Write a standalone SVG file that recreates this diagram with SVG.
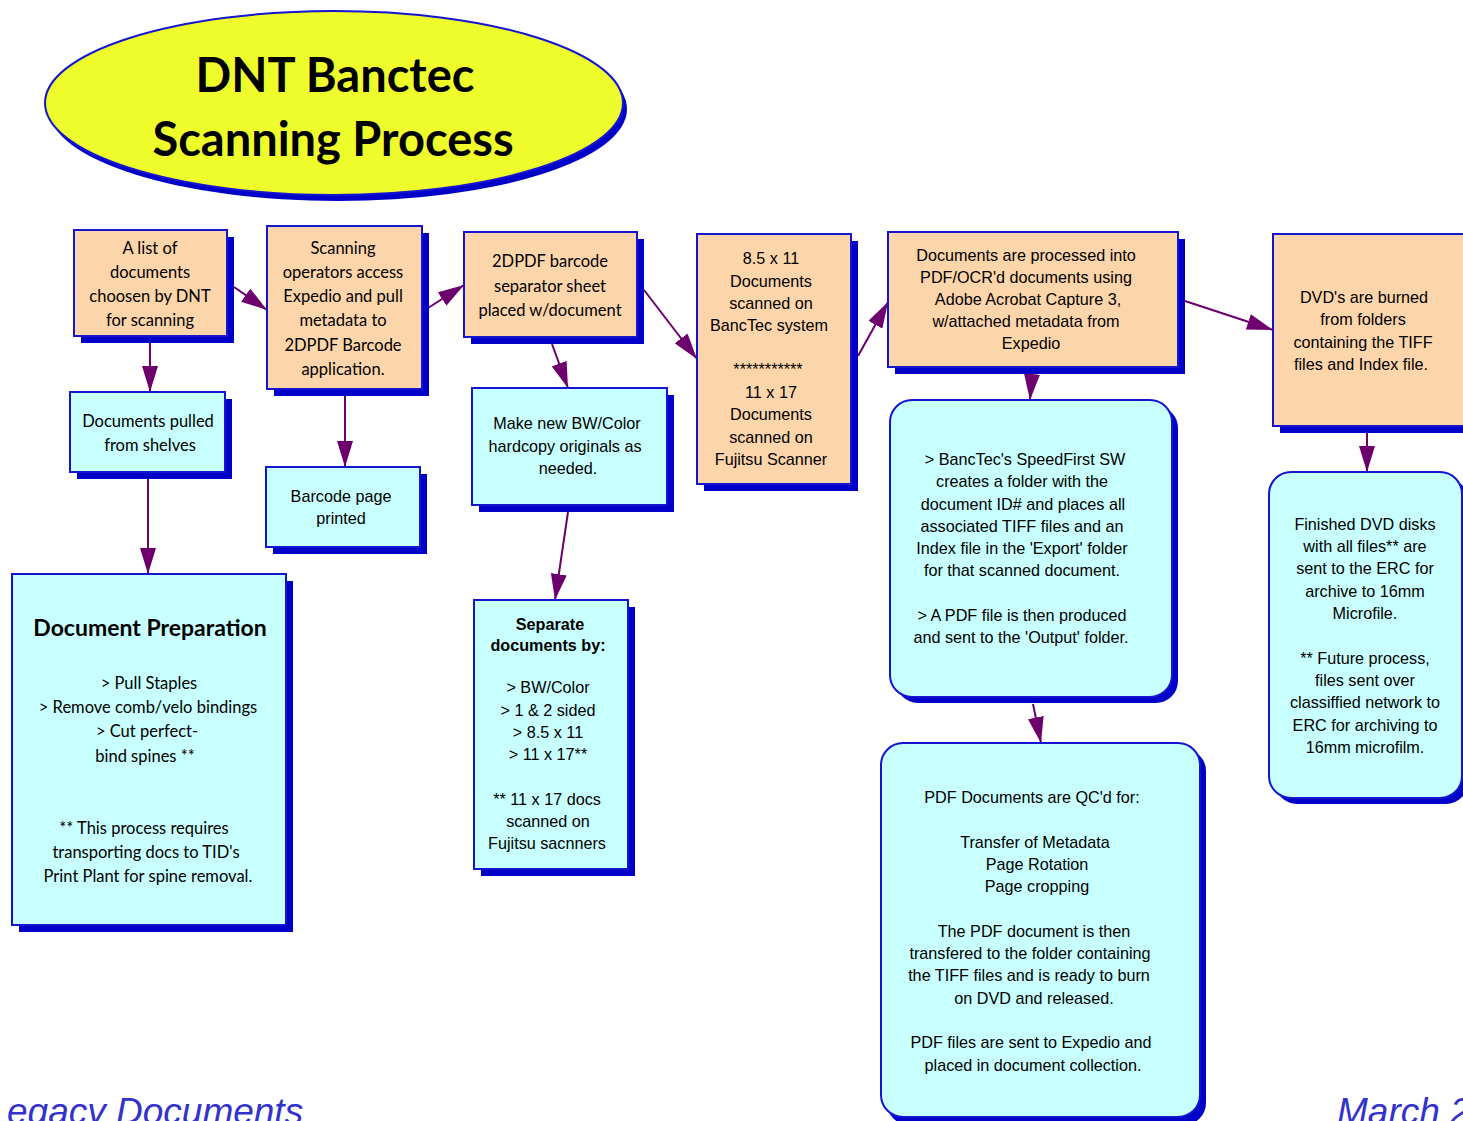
<svg xmlns="http://www.w3.org/2000/svg" width="1463" height="1121" viewBox="0 0 1463 1121">
<defs>
<style>
.peach{fill:#fdd5aa;stroke:#1515d0;stroke-width:2}
.cyan{fill:#c8ffff;stroke:#1515d0;stroke-width:2}
.shadow{fill:#0000c8}
.comic{font-family:"Comic Sans MS","Lato","Noto Sans",sans-serif;font-size:16.5px;fill:#000;text-anchor:middle}
.arial{font-family:"Liberation Sans",Arial,sans-serif;font-size:16.2px;fill:#000;text-anchor:middle}
.bold{font-weight:bold}
.title{font-family:"Comic Sans MS","Lato","Noto Sans",sans-serif;font-size:47px;font-weight:bold;fill:#000;text-anchor:middle}
.foot{font-family:"Liberation Sans",Arial,sans-serif;font-size:37px;font-style:italic;fill:#3333cc}
.conn{stroke:#6e006e;stroke-width:2;fill:none;marker-end:url(#ah)}
</style>
<marker id="ah" viewBox="0 0 26 16" refX="26" refY="8" markerWidth="26" markerHeight="16" markerUnits="userSpaceOnUse" orient="auto">
<path d="M0,0 L26,8 L0,16 z" fill="#6e006e"/>
</marker>
</defs>
<rect x="0" y="0" width="1463" height="1121" fill="#ffffff"/>

<g id="title">
<ellipse cx="338" cy="109" rx="289" ry="92" class="shadow"/>
<ellipse cx="334" cy="103" rx="289" ry="92" fill="#eefc2c" stroke="#1515d0" stroke-width="2"/>
<text x="335" y="92" class="title">DNT Banctec</text>
<text x="333" y="156" class="title">Scanning Process</text>
</g>

<g id="connectors">
<line x1="234" y1="287" x2="267" y2="310" class="conn"/>
<line x1="428" y1="308" x2="464" y2="285" class="conn"/>
<line x1="644" y1="290" x2="697" y2="359" class="conn"/>
<line x1="858" y1="356" x2="888" y2="302" class="conn"/>
<line x1="1185" y1="301" x2="1273" y2="330" class="conn"/>
<line x1="150" y1="342" x2="150" y2="392" class="conn"/>
<line x1="345" y1="396" x2="345" y2="467" class="conn"/>
<line x1="552" y1="344" x2="568" y2="388" class="conn"/>
<line x1="148" y1="479" x2="148" y2="574" class="conn"/>
<line x1="568" y1="512" x2="555" y2="600" class="conn"/>
<line x1="1032" y1="374" x2="1030" y2="400" class="conn"/>
<line x1="1033" y1="704" x2="1041" y2="743" class="conn"/>
<line x1="1367" y1="432" x2="1367" y2="472" class="conn"/>
</g>

<g id="n-list">
<rect x="81" y="237" width="153" height="106" class="shadow"/>
<rect x="74" y="230" width="153" height="106" class="peach"/>
<text class="comic"><tspan x="150" y="254">A list of</tspan><tspan x="150" y="278">documents</tspan><tspan x="150" y="302">choosen by DNT</tspan><tspan x="150" y="326">for scanning</tspan></text>
</g>

<g id="n-operators">
<rect x="274" y="233" width="155" height="163" class="shadow"/>
<rect x="267" y="226" width="155" height="163" class="peach"/>
<text class="comic"><tspan x="343" y="254">Scanning</tspan><tspan x="343" y="278">operators access</tspan><tspan x="343" y="302">Expedio and pull</tspan><tspan x="343" y="326">metadata to</tspan><tspan x="343" y="351">2DPDF Barcode</tspan><tspan x="343" y="375">application.</tspan></text>
</g>

<g id="n-separator">
<rect x="471" y="239" width="173" height="105" class="shadow"/>
<rect x="464" y="232" width="173" height="105" class="peach"/>
<text class="comic"><tspan x="550" y="267">2DPDF barcode</tspan><tspan x="550" y="292">separator sheet</tspan><tspan x="550" y="316">placed w/document</tspan></text>
</g>

<g id="n-scanned">
<rect x="704" y="241" width="154" height="250" class="shadow"/>
<rect x="697" y="234" width="154" height="250" class="peach"/>
<text class="arial"><tspan x="771" y="264">8.5 x 11</tspan><tspan x="771" y="287">Documents</tspan><tspan x="771" y="309">scanned on</tspan><tspan x="769" y="331">BancTec system</tspan><tspan x="768" y="375">***********</tspan><tspan x="771" y="398">11 x 17</tspan><tspan x="771" y="420">Documents</tspan><tspan x="771" y="443">scanned on</tspan><tspan x="771" y="465">Fujitsu Scanner</tspan></text>
</g>

<g id="n-processed">
<rect x="895" y="239" width="290" height="135" class="shadow"/>
<rect x="888" y="232" width="290" height="135" class="peach"/>
<text class="arial"><tspan x="1026" y="261">Documents are processed into</tspan><tspan x="1026" y="283">PDF/OCR'd documents using</tspan><tspan x="1028" y="305">Adobe Acrobat Capture 3,</tspan><tspan x="1026" y="327">w/attached metadata from</tspan><tspan x="1031" y="349">Expedio</tspan></text>
</g>

<g id="n-dvd">
<rect x="1280" y="241" width="200" height="192" class="shadow"/>
<rect x="1273" y="234" width="200" height="192" class="peach"/>
<text class="arial"><tspan x="1364" y="303">DVD's are burned</tspan><tspan x="1363" y="325">from folders</tspan><tspan x="1363" y="348">containing the TIFF</tspan><tspan x="1361" y="370">files and Index file.</tspan></text>
</g>

<g id="n-pulled">
<rect x="77" y="399" width="155" height="80" class="shadow"/>
<rect x="70" y="392" width="155" height="80" class="cyan"/>
<text class="comic"><tspan x="148" y="427">Documents pulled</tspan><tspan x="150" y="451">from shelves</tspan></text>
</g>

<g id="n-barcode">
<rect x="273" y="474" width="154" height="80" class="shadow"/>
<rect x="266" y="467" width="154" height="80" class="cyan"/>
<text class="arial"><tspan x="341" y="502">Barcode page</tspan><tspan x="341" y="524">printed</tspan></text>
</g>

<g id="n-hardcopy">
<rect x="479" y="395" width="195" height="117" class="shadow"/>
<rect x="472" y="388" width="195" height="117" class="cyan"/>
<text class="arial"><tspan x="567" y="429">Make new BW/Color</tspan><tspan x="565" y="452">hardcopy originals as</tspan><tspan x="568" y="474">needed.</tspan></text>
</g>

<g id="n-prep">
<rect x="19" y="581" width="274" height="351" class="shadow"/>
<rect x="12" y="574" width="274" height="351" class="cyan"/>
<text x="150" y="636" class="comic bold" style="font-size:23px">Document Preparation</text>
<text class="comic"><tspan x="149" y="689">&gt; Pull Staples</tspan><tspan x="148" y="713">&gt; Remove comb/velo bindings</tspan><tspan x="147" y="737">&gt; Cut perfect-</tspan><tspan x="145" y="762">bind spines **</tspan><tspan x="144" y="834">** This process requires</tspan><tspan x="146" y="858">transporting docs to TID's</tspan><tspan x="148" y="882">Print Plant for spine removal.</tspan></text>
</g>

<g id="n-separate">
<rect x="481" y="607" width="154" height="269" class="shadow"/>
<rect x="474" y="600" width="154" height="269" class="cyan"/>
<text class="arial bold"><tspan x="550" y="630">Separate</tspan><tspan x="548" y="651">documents by:</tspan></text>
<text class="arial"><tspan x="548" y="693">&gt; BW/Color</tspan><tspan x="548" y="716">&gt; 1 &amp; 2 sided</tspan><tspan x="548" y="738">&gt; 8.5 x 11</tspan><tspan x="548" y="760">&gt; 11 x 17**</tspan><tspan x="547" y="805">** 11 x 17 docs</tspan><tspan x="548" y="827">scanned on</tspan><tspan x="547" y="849">Fujitsu sacnners</tspan></text>
</g>

<g id="n-speedfirst">
<rect x="896" y="406" width="282" height="297" rx="22" class="shadow"/>
<rect x="890" y="400" width="282" height="297" rx="22" class="cyan"/>
<text class="arial"><tspan x="1025" y="465">&gt; BancTec's SpeedFirst SW</tspan><tspan x="1022" y="487">creates a folder with the</tspan><tspan x="1023" y="510">document ID# and places all</tspan><tspan x="1022" y="532">associated TIFF files and an</tspan><tspan x="1022" y="554">Index file in the 'Export' folder</tspan><tspan x="1022" y="576">for that scanned document.</tspan><tspan x="1022" y="621">&gt; A PDF file is then produced</tspan><tspan x="1021" y="643">and sent to the 'Output' folder.</tspan></text>
</g>

<g id="n-qc">
<rect x="887" y="749" width="319" height="376" rx="22" class="shadow"/>
<rect x="881" y="743" width="319" height="374" rx="22" class="cyan"/>
<text class="arial"><tspan x="1032" y="803">PDF Documents are QC'd for:</tspan><tspan x="1035" y="848">Transfer of Metadata</tspan><tspan x="1037" y="870">Page Rotation</tspan><tspan x="1037" y="892">Page cropping</tspan><tspan x="1034" y="937">The PDF document is then</tspan><tspan x="1030" y="959">transfered to the folder containing</tspan><tspan x="1029" y="981">the TIFF files and is ready to burn</tspan><tspan x="1034" y="1004">on DVD and released.</tspan><tspan x="1031" y="1048">PDF files are sent to Expedio and</tspan><tspan x="1033" y="1071">placed in document collection.</tspan></text>
</g>

<g id="n-finished">
<rect x="1275" y="478" width="193" height="326" rx="22" class="shadow"/>
<rect x="1269" y="472" width="193" height="326" rx="22" class="cyan"/>
<text class="arial"><tspan x="1365" y="530">Finished DVD disks</tspan><tspan x="1365" y="552">with all files** are</tspan><tspan x="1365" y="574">sent to the ERC for</tspan><tspan x="1365" y="597">archive to 16mm</tspan><tspan x="1365" y="619">Microfile.</tspan><tspan x="1365" y="664">** Future process,</tspan><tspan x="1365" y="686">files sent over</tspan><tspan x="1365" y="708">classiffied network to</tspan><tspan x="1365" y="731">ERC for archiving to</tspan><tspan x="1365" y="753">16mm microfilm.</tspan></text>
</g>

<g id="footer">
<text x="7" y="1124" class="foot">egacy Documents</text>
<text x="1337" y="1124" class="foot">March 2</text>
</g>
</svg>
